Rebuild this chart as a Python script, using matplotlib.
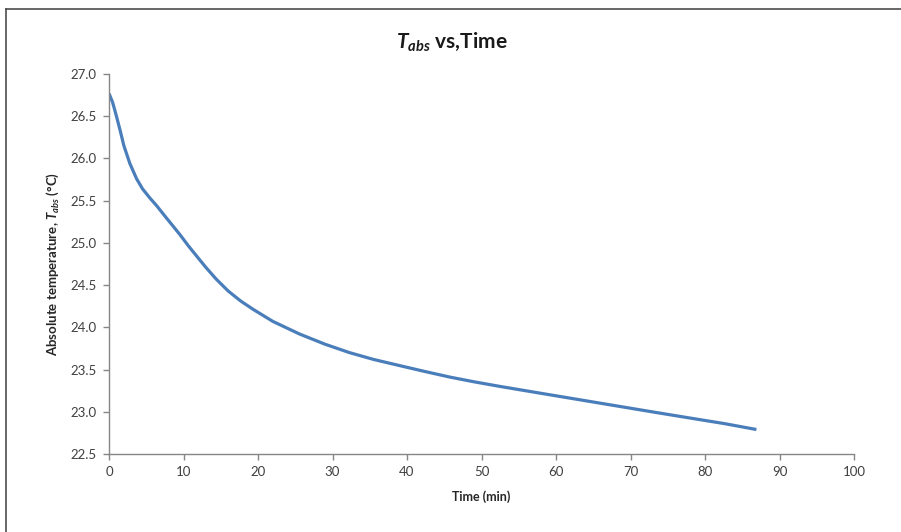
import matplotlib
matplotlib.use("Agg")
import matplotlib.pyplot as plt
from matplotlib.lines import Line2D

# Data
time_min = [0.0, 0.5, 1.0, 1.5, 2.0, 2.8, 3.7, 4.5, 5.5, 6.4, 7.3, 8.4,
            9.5, 10.7, 11.8, 13.0, 14.4, 16.0, 17.7, 19.4, 22.0, 25.6,
            29.0, 32.3, 35.5, 39.1, 42.5, 45.8, 49.0, 52.5, 57.9, 63.0,
            68.1, 73.2, 78.4, 82.6, 86.9]
t_abs = [26.77, 26.66, 26.50, 26.33, 26.15, 25.94, 25.76, 25.64, 25.53,
         25.44, 25.34, 25.22, 25.10, 24.96, 24.84, 24.71, 24.57, 24.43,
         24.31, 24.21, 24.07, 23.92, 23.80, 23.70, 23.62, 23.545, 23.475,
         23.41, 23.355, 23.30, 23.22, 23.145, 23.07, 22.995, 22.92, 22.86,
         22.79]

x_ticks = list(range(0, 101, 10))
y_ticks = [22.5, 23.0, 23.5, 24.0, 24.5, 25.0, 25.5, 26.0, 26.5, 27.0]

plt.rcParams['font.family'] = ['Lato', 'DejaVu Sans']
plt.rcParams['mathtext.fontset'] = 'custom'
plt.rcParams['mathtext.it'] = 'Lato:italic:bold'
plt.rcParams['mathtext.rm'] = 'Lato:bold'

fig = plt.figure(figsize=(9.01, 5.32), dpi=100)
fig.patch.set_facecolor('white')
ax = fig.add_axes([109 / 901, 1 - 454 / 532, (854 - 109) / 901, (454 - 74) / 532])

ax.plot(time_min, t_abs, color='#4A7EBB', linewidth=2.3,
        solid_joinstyle='round', solid_capstyle='butt')

ax.set_xlim(0, 100)
ax.set_ylim(22.5, 27.0)
ax.set_xticks(x_ticks)
ax.set_yticks(y_ticks)
ax.set_xticklabels([str(v) for v in x_ticks])
ax.set_yticklabels([f"{v:.1f}" for v in y_ticks])

axis_grey = '#868686'
for side in ['top', 'right']:
    ax.spines[side].set_visible(False)
for side in ['left', 'bottom']:
    ax.spines[side].set_color(axis_grey)
    ax.spines[side].set_linewidth(1.0)
ax.tick_params(axis='both', direction='out', length=4, width=1.0,
               color=axis_grey, labelsize=9.5, labelcolor='#404040')
ax.tick_params(axis='x', pad=5)
ax.tick_params(axis='y', pad=5)

ax.set_xlabel('Time (min)', fontsize=9, fontweight='bold', color='#262626')
ax.xaxis.set_label_coords(0.5, -0.095)
ax.set_ylabel(r'Absolute temperature, $T_{abs}$ (°C)', fontsize=9.5,
              fontweight='bold', color='#262626')
ax.yaxis.set_label_coords(-0.064, 0.5)

fig.text(0.502, 1 - 42 / 532, r'$T_{abs}$ vs,Time', ha='center', va='center',
         fontsize=15, fontweight='bold', color='#1a1a1a')

# Outer chart frame (only left and top edges visible in the crop)
fig.add_artist(Line2D([6 / 901, 6 / 901], [0, 1 - 9 / 532], color='#4d4d4d', linewidth=1.2))
fig.add_artist(Line2D([6 / 901, 1], [1 - 9 / 532, 1 - 9 / 532], color='#4d4d4d', linewidth=1.2))

fig.savefig('out.png', dpi=100, facecolor='white')
